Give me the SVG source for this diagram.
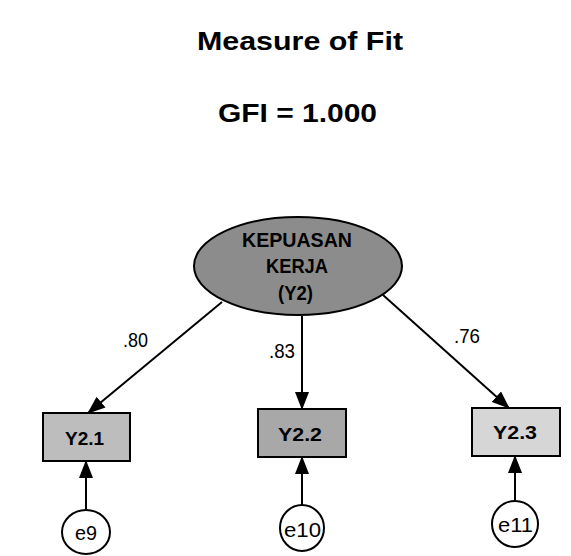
<svg xmlns="http://www.w3.org/2000/svg" width="571" height="556" viewBox="0 0 571 556">
<defs>
<style>
.t{font-family:"Liberation Sans",Arial,sans-serif;fill:#000}
.title{font-size:26px;font-weight:bold}
.lat{font-size:21px;font-weight:bold;fill:#000}
.box{stroke:#000;stroke-width:2}
.lbl{font-size:19px;font-weight:bold}
.err{fill:#fff;stroke:#000;stroke-width:2}
.elab{font-size:20px}
.coef{font-size:20px}
.conn line{stroke:#000;stroke-width:2;marker-end:url(#ah)}
</style>
<marker id="ah" markerUnits="userSpaceOnUse" viewBox="0 0 18 14" refX="17" refY="7" markerWidth="18" markerHeight="14" orient="auto">
<path d="M0,0 L18,7 L0,14 Z" fill="#000"/>
</marker>
</defs>
<rect width="571" height="556" fill="#fff"/>
<text class="t title" x="197" y="50" textLength="206" lengthAdjust="spacingAndGlyphs">Measure of Fit</text>
<text class="t title" x="218" y="122" textLength="159" lengthAdjust="spacingAndGlyphs">GFI = 1.000</text>
<g class="conn" id="connectors">
<line x1="222" y1="302" x2="88" y2="413"/>
<line x1="302" y1="316" x2="302" y2="409"/>
<line x1="383" y1="295" x2="509" y2="408"/>
<line x1="86" y1="509" x2="86" y2="461"/>
<line x1="302" y1="505" x2="302" y2="457"/>
<line x1="515" y1="501" x2="515" y2="456"/>
</g>
<text class="t coef" x="123" y="347" textLength="25" lengthAdjust="spacingAndGlyphs">.80</text>
<text class="t coef" x="269" y="358" textLength="26" lengthAdjust="spacingAndGlyphs">.83</text>
<text class="t coef" x="454" y="343" textLength="26" lengthAdjust="spacingAndGlyphs">.76</text>
<g id="Y2">
<ellipse cx="298" cy="266" rx="104" ry="49" fill="#8c8c8c" stroke="#000" stroke-width="2"/>
<text class="t lat" x="242" y="247" textLength="110" lengthAdjust="spacingAndGlyphs">KEPUASAN</text>
<text class="t lat" x="266" y="273" textLength="62" lengthAdjust="spacingAndGlyphs">KERJA</text>
<text class="t lat" x="278" y="300" textLength="35" lengthAdjust="spacingAndGlyphs">(Y2)</text>
</g>
<g id="Y2.1">
<rect class="box" x="43" y="413" width="87" height="48" fill="#bdbdbd"/>
<text class="t lbl" x="65" y="445" textLength="39" lengthAdjust="spacingAndGlyphs">Y2.1</text>
</g>
<g id="Y2.2">
<rect class="box" x="258" y="409" width="88" height="48" fill="#a8a8a8"/>
<text class="t lbl" x="278" y="441" textLength="44" lengthAdjust="spacingAndGlyphs">Y2.2</text>
</g>
<g id="Y2.3">
<rect class="box" x="472" y="408" width="88" height="48" fill="#d6d6d6"/>
<text class="t lbl" x="493" y="439" textLength="44" lengthAdjust="spacingAndGlyphs">Y2.3</text>
</g>
<g id="e9">
<ellipse class="err" cx="86" cy="532" rx="24" ry="22"/>
<text class="t elab" x="75" y="540" textLength="22" lengthAdjust="spacingAndGlyphs">e9</text>
</g>
<g id="e10">
<ellipse class="err" cx="302" cy="528" rx="22" ry="23"/>
<text class="t elab" x="284" y="537" textLength="37" lengthAdjust="spacingAndGlyphs">e10</text>
</g>
<g id="e11">
<ellipse class="err" cx="515" cy="524" rx="23" ry="23"/>
<text class="t elab" x="498" y="532" textLength="35" lengthAdjust="spacingAndGlyphs">e11</text>
</g>
</svg>
